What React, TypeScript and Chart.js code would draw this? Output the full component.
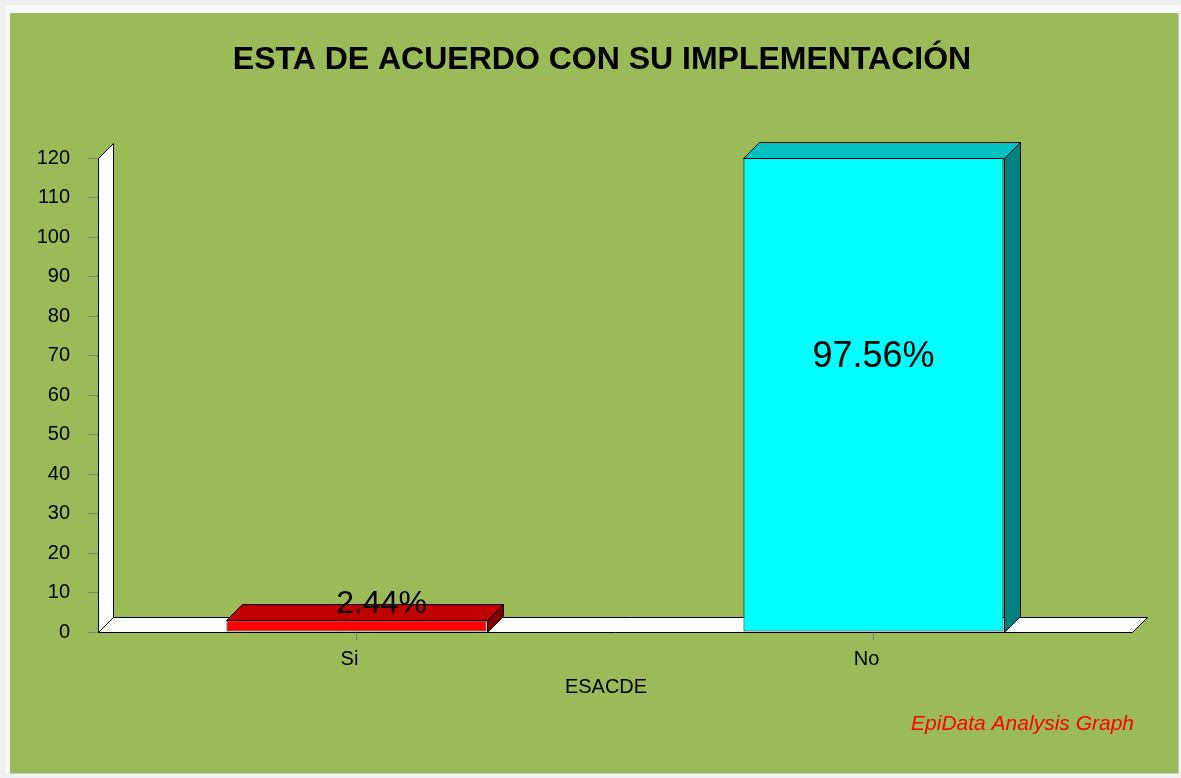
import React, { useEffect, useRef } from 'react';
import { Chart, registerables } from 'chart.js';

Chart.register(...registerables);

// ---- data ----
const categories: string[] = ['Si', 'No'];
const counts: number[] = [3, 120];
const yMax = 120;
const yStep = 10;
const chartTitle = 'ESTA DE ACUERDO CON SU IMPLEMENTACIÓN';
const xAxisTitle = 'ESACDE';
const footerText = 'EpiData Analysis Graph';

// ---- styles ----
const FRONT = ['#FF0000', '#00FFFF'];
const TOP = ['#C00000', '#00C0C0'];
const SIDE = ['#800000', '#008080'];
const FONT = 'Arial, "Liberation Sans", sans-serif';
const W = 1181;
const H = 778;
const D_WALL = 15;
const D_BAR = 16;

const poly = (ctx: CanvasRenderingContext2D, pts: number[][], fill: string) => {
  ctx.beginPath();
  ctx.moveTo(pts[0][0], pts[0][1]);
  for (let i = 1; i < pts.length; i++) ctx.lineTo(pts[i][0], pts[i][1]);
  ctx.closePath();
  ctx.fillStyle = fill;
  ctx.fill();
  ctx.strokeStyle = '#000';
  ctx.lineWidth = 1;
  ctx.stroke();
};

const threeDPlugin = {
  id: 'threeD',
  beforeDraw(chart: any) {
    const ctx = chart.ctx as CanvasRenderingContext2D;
    ctx.save();
    ctx.fillStyle = '#F0F0F0';
    ctx.fillRect(0, 0, W, H);
    ctx.fillStyle = '#F9F9F9';
    ctx.fillRect(6, 5, W - 7, H - 8);
    ctx.fillStyle = '#9BBB59';
    ctx.fillRect(10, 13, 1168, 760);
    ctx.fillStyle = '#C8C8C8';
    ctx.fillRect(10, 773, 1169, 1);
    ctx.fillRect(1178, 13, 1, 761);
    ctx.restore();
  },
  beforeDatasetsDraw(chart: any) {
    const ctx = chart.ctx as CanvasRenderingContext2D;
    const { left, right } = chart.chartArea;
    const y = chart.scales.y;
    const top = Math.round(y.getPixelForValue(yMax)) + 0.5;
    const bottom = Math.round(y.getPixelForValue(0)) + 0.5;
    const l = Math.round(left) + 0.5;
    const r = Math.round(right) + 0.5;
    ctx.save();
    poly(ctx, [[l, bottom], [l, top], [l + D_WALL, top - D_WALL], [l + D_WALL, bottom - D_WALL]], '#FFFFFF');
    poly(ctx, [[l, bottom], [l + D_WALL, bottom - D_WALL], [r + D_WALL, bottom - D_WALL], [r, bottom]], '#FFFFFF');
    ctx.restore();
  },
  afterDatasetsDraw(chart: any) {
    const ctx = chart.ctx as CanvasRenderingContext2D;
    const meta = chart.getDatasetMeta(0);
    const total = counts.reduce((a, b) => a + b, 0);
    ctx.save();
    meta.data.forEach((bar: any, i: number) => {
      const { x, y, base, width } = bar.getProps(['x', 'y', 'base', 'width'], true);
      const x0 = Math.round(x - width / 2) + 0.5;
      const x1 = Math.round(x + width / 2) + 0.5;
      const yt = Math.round(y) + 0.5;
      const yb = Math.round(base) + 0.5;
      poly(ctx, [[x0, yt], [x0 + D_BAR, yt - D_BAR], [x1 + D_BAR, yt - D_BAR], [x1, yt]], TOP[i % TOP.length]);
      poly(ctx, [[x1, yt], [x1 + D_BAR, yt - D_BAR], [x1 + D_BAR, yb - D_BAR], [x1, yb]], SIDE[i % SIDE.length]);
    });
    meta.data.forEach((bar: any, i: number) => {
      const { x, y, base } = bar.getProps(['x', 'y', 'base'], true);
      const label = ((counts[i] / total) * 100).toFixed(2) + '%';
      ctx.fillStyle = '#000';
      ctx.textAlign = 'center';
      ctx.textBaseline = 'middle';
      if (base - y > 60) {
        ctx.font = `36px ${FONT}`;
        ctx.fillText(label, x, y + (base - y) * 0.42);
      } else {
        ctx.font = `32px ${FONT}`;
        ctx.fillText(label, x + 25, y - D_BAR);
      }
    });
    ctx.restore();
  },
  afterDraw(chart: any) {
    const ctx = chart.ctx as CanvasRenderingContext2D;
    const xs = chart.scales.x;
    ctx.save();
    ctx.fillStyle = '#000';
    ctx.textAlign = 'center';
    ctx.textBaseline = 'alphabetic';
    // category labels
    ctx.font = `20px ${FONT}`;
    categories.forEach((c, i) => {
      ctx.fillText(c, xs.getPixelForValue(i) - 7, 665);
    });
    ctx.font = `bold 32px ${FONT}`;
    ctx.fillText(chartTitle, 602, 69);
    ctx.font = `20px ${FONT}`;
    ctx.fillText(xAxisTitle, 606, 693);
    ctx.fillStyle = '#FF0000';
    ctx.textAlign = 'right';
    ctx.font = `italic 21px ${FONT}`;
    ctx.fillText(footerText, 1134, 730);
    ctx.restore();
  },
};

export default function App() {
  const ref = useRef<HTMLCanvasElement | null>(null);
  useEffect(() => {
    if (!ref.current) return;
    const chart = new Chart(ref.current, {
      type: 'bar',
      data: {
        labels: categories,
        datasets: [
          {
            data: counts,
            backgroundColor: FRONT,
            borderColor: '#000000',
            borderWidth: 1,
            borderSkipped: false,
            barPercentage: 1,
            categoryPercentage: 0.503,
          },
        ],
      },
      options: {
        responsive: false,
        animation: false,
        devicePixelRatio: 1,
        layout: { padding: { left: 0, right: 49, top: 158, bottom: 0 } },
        plugins: {
          legend: { display: false },
          title: { display: false },
          tooltip: { enabled: false },
        },
        scales: {
          x: {
            grid: {
              display: true,
              drawOnChartArea: false,
              drawTicks: true,
              tickLength: 8,
              color: '#808080',
              offset: false,
            },
            border: { display: false },
            ticks: { color: 'rgba(0,0,0,0)', font: { family: FONT, size: 20 }, padding: 5 },
            afterFit: (s: any) => {
              s.height = H - 632;
            },
          },
          y: {
            min: 0,
            max: yMax,
            grid: {
              display: true,
              drawOnChartArea: false,
              drawTicks: true,
              tickLength: 10,
              color: '#808080',
            },
            border: { display: false },
            ticks: {
              stepSize: yStep,
              color: '#000',
              font: { family: FONT, size: 20 },
              padding: 18,
            },
            afterFit: (s: any) => {
              s.width = 98;
            },
          },
        },
      },
      plugins: [threeDPlugin],
    });
    return () => chart.destroy();
  }, []);
  return (
    <div style={{ position: 'fixed', left: 0, top: 0, width: W, height: H }}>
      <canvas ref={ref} width={W} height={H} style={{ display: 'block', width: W, height: H }} />
    </div>
  );
}
